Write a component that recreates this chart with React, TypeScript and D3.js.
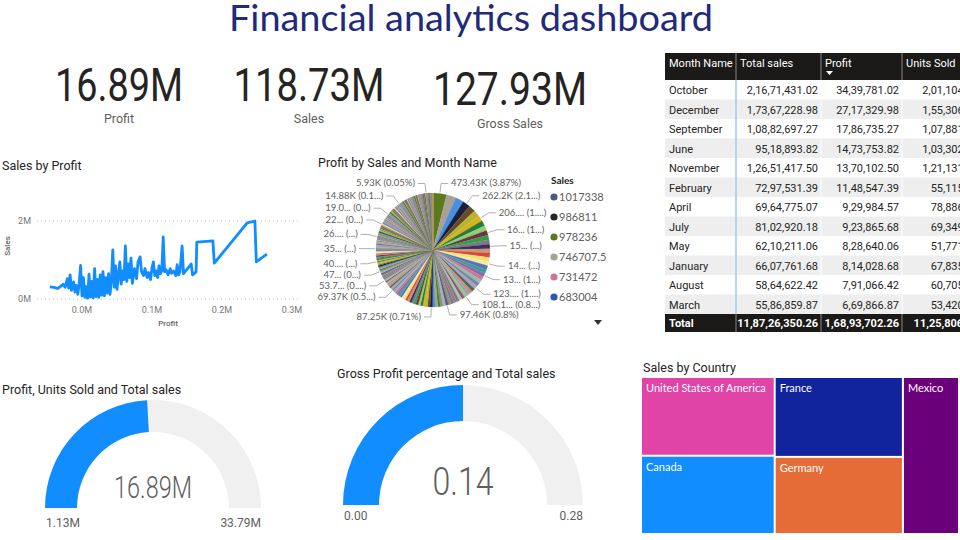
import React from "react";
import * as d3 from "d3";

// ---------- DATA ----------
const dashboardTitle = "Financial analytics dashboard";
const kpiValues = ["16.89M", "118.73M", "127.93M"];
const kpiLabels = ["Profit", "Sales", "Gross Sales"];

// Sales by Profit (values in millions)
const lineProfit = [
  -0.046, -0.04, -0.035, -0.03, -0.027, -0.024, -0.021, -0.019, -0.017, -0.015, -0.012, -0.01, -0.008, -0.006,
  -0.004, -0.002, 0.0, 0.002, 0.004, 0.006, 0.008, 0.01, 0.012, 0.014, 0.016, 0.018, 0.02, 0.022, 0.024, 0.026,
  0.028, 0.03, 0.032, 0.034, 0.036, 0.038, 0.04, 0.042, 0.044, 0.046, 0.048, 0.05, 0.052, 0.054, 0.056, 0.058,
  0.06, 0.062, 0.064, 0.066, 0.068, 0.07, 0.072, 0.075, 0.078, 0.08, 0.083, 0.085, 0.088, 0.09, 0.093, 0.095,
  0.098, 0.1, 0.102, 0.104, 0.106, 0.108, 0.11, 0.112, 0.114, 0.116, 0.118, 0.12, 0.123, 0.126, 0.128, 0.131,
  0.134, 0.136, 0.138, 0.14, 0.143, 0.145, 0.148, 0.152, 0.156, 0.158, 0.16, 0.163, 0.164, 0.187, 0.189, 0.236,
  0.247, 0.249, 0.264,
];
const lineSales = [
  0.31, 0.3, 0.27, 0.33, 0.38, 0.3, 0.52, 0.28, 0.62, 0.22, 0.44, 0.18, 0.35, 0.12,
  0.4, 0.86, 0.08, 0.55, 0.04, 0.32, 0.02, 0.64, 0.05, 0.45, 0.03, 0.78, 0.06, 0.5, 0.04, 0.62,
  0.1, 0.7, 0.08, 0.55, 0.15, 0.65, 0.12, 0.48, 1.26, 0.3, 0.85, 0.25, 0.6, 0.95, 0.38, 0.72,
  0.5, 1.36, 0.45, 0.9, 0.55, 1.05, 0.4, 0.78, 0.52, 0.95, 1.08, 0.7, 0.6, 0.78, 0.55, 0.68,
  0.5, 0.8, 0.95, 0.6, 0.72, 0.55, 0.85, 0.65, 0.72, 1.59, 0.7, 0.75, 0.62, 0.78, 0.66, 0.72,
  0.6, 0.88, 0.62, 0.7, 1.36, 0.65, 0.72, 0.8, 0.9, 0.62, 0.65, 0.7, 1.46, 1.49, 0.92, 1.95,
  2.0, 0.95, 1.15,
];
const lineXTicks = [0, 0.1, 0.2, 0.3];
const lineYTicks = [0, 2];

// Profit by Sales (pie, values in K)
const pieValues = [
  473.43, 330.5, 295.1, 262.2, 240.3, 221.8, 206.4, 190.2, 178.5, 165.3, 160.1, 158.0, 155.2, 152.4, 150.1, 148.3,
  145.6, 142.0, 138.9, 135.2, 131.4, 128.7, 126.0, 123.4, 119.8, 113.2, 110.4, 108.1, 106.2, 104.5, 102.8,
  101.1, 99.7, 98.3, 97.46, 95.2, 93.1, 92.0, 91.0, 89.2, 87.25,
  86.0, 85.1, 84.2, 83.0, 82.1, 81.3, 80.2, 79.4, 78.5, 77.6, 76.8, 75.9, 75.0, 74.1, 73.2, 72.3, 71.4, 70.5, 69.37,
  67.0, 64.8, 62.5, 60.1, 57.9, 55.6, 53.7,
  52.6, 51.5, 50.4, 49.6, 48.7, 47.9, 47.2,
  46.5, 45.6, 44.8, 43.9, 43.0, 42.2, 41.3, 40.4,
  39.8, 39.2, 38.7, 38.1, 37.6, 37.0, 36.5, 36.1, 35.7, 35.4, 35.2, 35.0,
  34.5, 33.6, 32.7, 31.8, 31.0, 30.2, 29.5, 28.8, 28.1, 27.5, 26.9, 26.4, 26.2, 26.0,
  25.8, 25.6, 25.3, 25.1, 24.8, 24.6, 24.3, 24.1, 23.9, 23.7, 23.5, 23.3, 23.1, 22.9, 22.7, 22.5, 22.4, 22.2, 22.1,
  21.9, 21.7, 21.5, 21.3, 21.2, 21.0, 20.8, 20.7, 20.5, 20.3, 20.2, 20.0, 19.9, 19.7, 19.6, 19.5, 19.3, 19.2, 19.1, 19.0,
  18.9, 18.7, 18.6, 18.4, 18.3, 18.1, 18.0, 17.8, 17.7, 17.5, 17.4, 17.2, 17.1, 16.9, 16.8, 16.6, 16.5, 16.4, 16.2,
  16.1, 16.0, 15.8, 15.7, 15.6, 15.5, 15.4, 15.3, 15.2, 15.1, 15.0, 14.88,
  14.7, 14.6, 14.5, 14.3, 14.2, 14.1, 14.0, 13.9, 13.8, 13.6, 13.5, 13.4, 13.3, 13.2, 13.1, 13.0, 12.9, 12.8, 12.7,
  12.6, 12.5, 12.4, 12.3, 12.2, 12.1, 12.0, 11.9, 11.8, 11.8, 11.7, 11.6, 11.5, 11.4, 11.3, 11.2, 11.1, 11.0, 10.9,
  10.9, 10.8, 10.7, 10.6, 10.5, 10.4, 10.3, 10.3, 10.2, 10.1, 10.0, 9.9, 9.8, 9.8, 9.7, 9.6, 9.5, 9.4, 9.3, 9.3, 9.2,
  9.1, 9.0, 8.9, 8.9, 8.8, 8.7, 8.6, 8.5, 8.5, 8.4, 8.3, 8.2, 8.1, 8.1, 8.0, 7.9, 7.8, 7.7, 7.7, 7.6, 7.5, 7.4, 7.3,
  7.3, 7.2, 7.1, 7.0, 6.9, 6.9, 6.8, 6.7, 6.6, 6.5, 6.5, 6.4, 6.3, 6.2, 6.1, 6.1, 6.0, 5.93,
  5.9, 5.8, 5.8, 5.7, 5.6, 5.5, 5.5, 5.4, 5.3, 5.2, 5.2, 5.1, 5.0, 4.9, 4.9, 4.8, 4.7, 4.6, 4.6, 4.5, 4.4, 4.3, 4.3,
  4.2, 4.1, 4.0, 4.0, 3.9, 3.8, 3.7, 3.7, 3.6, 3.5, 3.4, 3.4, 3.3, 3.2, 3.1, 3.1, 3.0, 2.9, 2.8, 2.8, 2.7, 2.6, 2.5,
  2.5, 2.4, 2.3, 2.2, 2.2, 2.1, 2.0, 1.9, 1.9, 1.8, 1.7, 1.6, 1.6, 1.5, 1.4, 1.3, 1.3, 1.2, 1.1, 1.0, 0.9, 0.8, 0.7,
  0.6, 0.5, 0.4,
];
const pieLabelValues = [473.43, 262.2, 206.4, 165.3, 155.2, 145.6, 135.2, 123.4, 108.1, 97.46, 87.25, 69.37, 53.7, 47.2, 40.4, 35.0, 26.0, 22.1, 19.0, 14.88, 5.93];
const pieLabelTexts = [
  "473.43K (3.87%)", "262.2K (2.1...)", "206.... (1....)", "16... (1...)", "15... (...)", "14... (...)",
  "13... (1...)", "123.... (1....)", "108.1... (0.8...)", "97.46K (0.8%)", "87.25K (0.71%)", "69.37K (0.5...)",
  "53.7... (0....)", "47... (0...)", "40.... (...)", "35... (...)", "26.... (...)", "22... (0...)",
  "19.0... (0...)", "14.88K (0.1...)", "5.93K (0.05%)",
];
const piePalette = [
  "#5B7A1E", "#A9A294", "#4A8FE0", "#16213D", "#6B4A2A", "#B5B532", "#D6B31C", "#2F7A3A", "#86D27A", "#7A2E3A",
  "#2E9E48", "#7B7B7B", "#3C2C66", "#C79A6B", "#D9483E", "#EFE07A", "#F2EE9A", "#5C6FC4", "#3F9E9A", "#8D6A9F",
  "#C47A9C", "#9DB8A8", "#6E8FA0", "#B0A0C8", "#4F6B5A", "#D38B6C", "#8FA3C7", "#A3C46E", "#7A5C8F", "#C5B9A0",
  "#5E8C8C", "#B56B8A", "#708090", "#9C8B6E", "#4B5F8A", "#BFA5B5", "#6FA08A",
];
const legendSales = ["1017338", "986811", "978236", "746707.5", "731472", "683004"];
const legendColors = ["#4A5A80", "#252525", "#5B7A1E", "#A9A294", "#C47A9C", "#2E54B8"];

// Table
const tableHeaders = ["Month Name", "Total sales", "Profit", "Units Sold"];
const months = ["October", "December", "September", "June", "November", "February", "April", "July", "May", "January", "August", "March"];
const monthSales = [21671431.02, 17367228.98, 10882697.27, 9518893.82, 12651417.5, 7297531.39, 6964775.07, 8102920.18, 6210211.06, 6607761.68, 5864622.42, 5586859.87];
const monthProfit = [3439781.02, 2717329.98, 1786735.27, 1473753.82, 1370102.5, 1148547.39, 929984.57, 923865.68, 828640.06, 814028.68, 791066.42, 669866.87];
const monthUnits = [201104.0, 155306.0, 107881.0, 103302.0, 121131.0, 55115.0, 78886.5, 69349.0, 51771.0, 67835.5, 60705.0, 53420.0];
const totalSales = 118726350.26;
const totalProfit = 16893702.26;
const totalUnits = 1125806.0;

// Gauges
const gauge1 = { min: 1.13, max: 33.79, value: 16.89, valueText: "16.89M", minText: "1.13M", maxText: "33.79M" };
const gauge2 = { min: 0, max: 0.28, value: 0.14, valueText: "0.14", minText: "0.00", maxText: "0.28" };

// Treemap
const countries = ["United States of America", "Canada", "France", "Germany", "Mexico"];
const countrySales = [25.03, 24.89, 24.35, 23.51, 20.95];
const countryColors = ["#E044A7", "#118DFF", "#12239E", "#E66C37", "#6B007B"];

// ---------- HELPERS ----------
const fmtIN = (v: number) => {
  const [i, d] = v.toFixed(2).split(".");
  const last3 = i.slice(-3);
  let rest = i.slice(0, -3);
  rest = rest.replace(/\B(?=(\d{2})+(?!\d))/g, ",");
  return (rest ? rest + "," + last3 : last3) + "." + d;
};

const DIN = "Roboto, 'DejaVu Sans', sans-serif";
const SEGOE = "Lato, 'Open Sans', sans-serif";
const TXT = "#252423";
const GREY = "#605E5C";

function Gauge({ cx, cy, rOuter, rInner, g, valueSize, valueWidth, valueY, labelY }: any) {
  const ang = d3.scaleLinear().domain([g.min, g.max]).range([-Math.PI / 2, Math.PI / 2]);
  const arc = d3.arc<any>().innerRadius(rInner).outerRadius(rOuter);
  return (
    <g>
      <path transform={`translate(${cx},${cy})`} d={arc({ startAngle: -Math.PI / 2, endAngle: Math.PI / 2 }) as string} fill="#F0F0F0" />
      <path transform={`translate(${cx},${cy})`} d={arc({ startAngle: -Math.PI / 2, endAngle: ang(g.value) }) as string} fill="#118DFF" />
      <text x={cx} y={valueY} textAnchor="middle" fontFamily={DIN} fontWeight={300} fontSize={valueSize} fill={GREY}
        textLength={valueWidth} lengthAdjust="spacingAndGlyphs">{g.valueText}</text>
      <text x={cx - rOuter + 1} y={labelY} fontFamily={DIN} fontSize={12} fill={GREY}>{g.minText}</text>
      <text x={cx + rOuter} y={labelY} textAnchor="end" fontFamily={DIN} fontSize={12} fill={GREY}>{g.maxText}</text>
    </g>
  );
}

export default function App() {
  // line chart
  const lx = d3.scaleLinear().domain([0, 0.3]).range([82, 292]);
  const ly = d3.scaleLinear().domain([0, 2]).range([299, 221]);
  const linePath = d3.line<number>().x((_, i) => lx(lineProfit[i])).y((d) => ly(d))(lineSales) as string;

  // pie
  const pcx = 433, pcy = 250, pr = 57;
  const pieArcs = d3.pie<number>().sort(null).value((d) => d)(pieValues);
  const arcGen = d3.arc<any>().innerRadius(0).outerRadius(pr);

  // treemap
  const root = d3
    .hierarchy<any>({ children: countries.map((c, i) => ({ name: c, value: countrySales[i], color: countryColors[i] })) })
    .sum((d) => d.value || 0)
    .sort((a, b) => (b.value || 0) - (a.value || 0));
  d3.treemap<any>().size([316, 155]).paddingInner(2).tile(d3.treemapSquarify)(root);
  const tmX = 642, tmY = 378;

  // table
  const colX = [665, 736, 821, 902, 982];
  const tTop = 53, headH = 27, rowH = 19.5;
  const bodyTop = tTop + headH;
  const totalTop = bodyTop + rowH * months.length;
  const rows = months.map((m, i) => [m, fmtIN(monthSales[i]), fmtIN(monthProfit[i]), fmtIN(monthUnits[i])]);

  return (
    <svg width={960} height={540} style={{ position: "absolute", left: 0, top: 0, background: "#fff" }}>
      {/* Title */}
      <text x={471} y={31} textAnchor="middle" fontFamily={SEGOE} fontWeight={400} fontSize={36} fill="#1F2A7C"
        textLength={484} lengthAdjust="spacingAndGlyphs">{dashboardTitle}</text>

      {/* KPIs */}
      {kpiValues.map((v, i) => {
        const cx = [119, 309, 510][i];
        const by = [101, 101, 105][i];
        const w = [128, 151, 154][i];
        const ly2 = [123, 123, 128][i];
        return (
          <g key={v}>
            <text x={cx} y={by} textAnchor="middle" fontFamily={DIN} fontSize={46} fill={TXT}
              textLength={w} lengthAdjust="spacingAndGlyphs">{v}</text>
            <text x={cx} y={ly2} textAnchor="middle" fontFamily={DIN} fontSize={12.5} fill={GREY}>{kpiLabels[i]}</text>
          </g>
        );
      })}

      {/* Sales by Profit */}
      <text x={2} y={170} fontFamily={DIN} fontSize={12.5} fill={TXT}>Sales by Profit</text>
      {lineYTicks.map((t) => (
        <g key={t}>
          <line x1={37} x2={298} y1={ly(t)} y2={ly(t)} stroke="#C8C6C4" strokeDasharray="1,3" />
          <text x={31} y={ly(t) + 3} textAnchor="end" fontFamily={DIN} fontSize={9} fill="#777">{t}M</text>
        </g>
      ))}
      {lineXTicks.map((t) => (
        <text key={t} x={lx(t)} y={313} textAnchor="middle" fontFamily={DIN} fontSize={9} fill="#777">{t.toFixed(1)}M</text>
      ))}
      <text x={168} y={326} textAnchor="middle" fontFamily={DIN} fontSize={8} fontWeight={500} fill="#666">Profit</text>
      <text transform="translate(10,246) rotate(-90)" textAnchor="middle" fontFamily={DIN} fontSize={8} fontWeight={500} fill="#666">Sales</text>
      <path d={linePath} fill="none" stroke="#118DFF" strokeWidth={2.8} strokeLinejoin="round" />

      {/* Pie */}
      <text x={318} y={167} fontFamily={DIN} fontSize={12.5} fill={TXT}>Profit by Sales and Month Name</text>
      <g transform={`translate(${pcx},${pcy})`}>
        {pieArcs.map((a, i) => (
          <path key={i} d={arcGen(a) as string} fill={piePalette[i % piePalette.length]} stroke={piePalette[i % piePalette.length]} strokeWidth={0.2} />
        ))}
      </g>
      {pieLabelValues.map((v, k) => {
        const idx = pieValues.indexOf(v);
        const a = pieArcs[idx];
        const m = (a.startAngle + a.endAngle) / 2;
        const right = m < 3.06;
        const p0x = pcx + (pr + 1) * Math.sin(m), p0y = pcy - (pr + 1) * Math.cos(m);
        const ex = pcx + (pr + 10) * Math.sin(m), ey = pcy - (pr + 10) * Math.cos(m);
        const hx = ex + (right ? 7 : -7);
        return (
          <g key={k}>
            <polyline points={`${p0x},${p0y} ${ex},${ey} ${hx},${ey}`} fill="none" stroke="#B3B0AD" strokeWidth={1} />
            <text x={hx + (right ? 3 : -3)} y={ey + 3} textAnchor={right ? "start" : "end"} fontFamily={SEGOE} fontSize={9.5} fill={GREY}>
              {pieLabelTexts[k]}
            </text>
          </g>
        );
      })}
      <text x={551} y={184} fontFamily={SEGOE} fontWeight={700} fontSize={10} fill={TXT}>Sales</text>
      {legendSales.map((s, i) => (
        <g key={s}>
          <circle cx={554} cy={197 + i * 20} r={3.6} fill={legendColors[i]} />
          <text x={559} y={201 + i * 20} fontFamily={SEGOE} fontSize={11} fill={GREY}>{s}</text>
        </g>
      ))}
      <path d="M594,320 L602,320 L598,325 Z" fill="#333" />

      {/* Table */}
      <defs>
        <clipPath id="tclip"><rect x={0} y={0} width={960} height={540} /></clipPath>
      </defs>
      <g clipPath="url(#tclip)">
        <rect x={colX[0]} y={tTop} width={colX[4] - colX[0]} height={headH} fill="#1B1A19" />
        {tableHeaders.map((h, j) => (
          <text key={h} x={colX[j] + 4} y={tTop + 14} fontFamily={DIN} fontSize={11} fill="#fff">{h}</text>
        ))}
        <path d={`M${colX[2] + 5},${tTop + 18} L${colX[2] + 12},${tTop + 18} L${colX[2] + 8.5},${tTop + 22} Z`} fill="#fff" />
        {[1, 2, 3].map((j) => (
          <line key={j} x1={colX[j]} x2={colX[j]} y1={tTop} y2={tTop + headH} stroke="#8A8886" strokeWidth={1} />
        ))}
        {rows.map((r, i) => {
          const y = bodyTop + i * rowH;
          return (
            <g key={i}>
              <rect x={colX[0]} y={y} width={colX[4] - colX[0]} height={rowH} fill={i % 2 === 0 ? "#FFFFFF" : "#EEEEEE"} />
              {[2, 3].map((j) => (
                <line key={j} x1={colX[j]} x2={colX[j]} y1={y} y2={y + rowH} stroke="#FFFFFF" strokeWidth={1} />
              ))}
              {r.map((c, j) => (
                <text key={j} x={j === 0 ? colX[0] + 4 : colX[j + 1] - 3} y={y + 14} textAnchor={j === 0 ? "start" : "end"}
                  fontFamily={DIN} fontSize={11} fill={TXT}>{c}</text>
              ))}
            </g>
          );
        })}
        <line x1={colX[1]} x2={colX[1]} y1={bodyTop} y2={totalTop} stroke="#9CC8F0" strokeWidth={1.5} />
        <rect x={colX[0]} y={totalTop} width={colX[4] - colX[0]} height={18} fill="#1B1A19" />
        {[1, 2, 3].map((j) => (
          <line key={j} x1={colX[j]} x2={colX[j]} y1={totalTop} y2={totalTop + 18} stroke="#8A8886" strokeWidth={1} />
        ))}
        {["Total", fmtIN(totalSales), fmtIN(totalProfit), fmtIN(totalUnits)].map((c, j) => (
          <text key={j} x={j === 0 ? colX[0] + 4 : colX[j + 1] - 3} y={totalTop + 13} textAnchor={j === 0 ? "start" : "end"}
            fontFamily={DIN} fontWeight={700} fontSize={11} fill="#fff">{c}</text>
        ))}
      </g>

      {/* Gauges */}
      <text x={2} y={394} fontFamily={DIN} fontSize={12.5} fill={TXT}>Profit, Units Sold and Total sales</text>
      <Gauge cx={153} cy={508} rOuter={108} rInner={76} g={gauge1} valueSize={31} valueWidth={78} valueY={498} labelY={527} />
      <text x={337} y={378} fontFamily={DIN} fontSize={12.5} fill={TXT}>Gross Profit percentage and Total sales</text>
      <Gauge cx={463} cy={505} rOuter={120} rInner={84} g={gauge2} valueSize={38} valueWidth={61} valueY={495} labelY={520} />

      {/* Treemap */}
      <text x={643} y={372} fontFamily={DIN} fontSize={12.5} fill={TXT}>Sales by Country</text>
      {root.leaves().map((l: any) => (
        <g key={l.data.name}>
          <rect x={tmX + l.x0} y={tmY + l.y0} width={l.x1 - l.x0} height={l.y1 - l.y0} fill={l.data.color} />
          <text x={tmX + l.x0 + 4} y={tmY + l.y0 + 14} fontFamily={SEGOE} fontSize={11} fill="#fff">{l.data.name}</text>
        </g>
      ))}
    </svg>
  );
}
